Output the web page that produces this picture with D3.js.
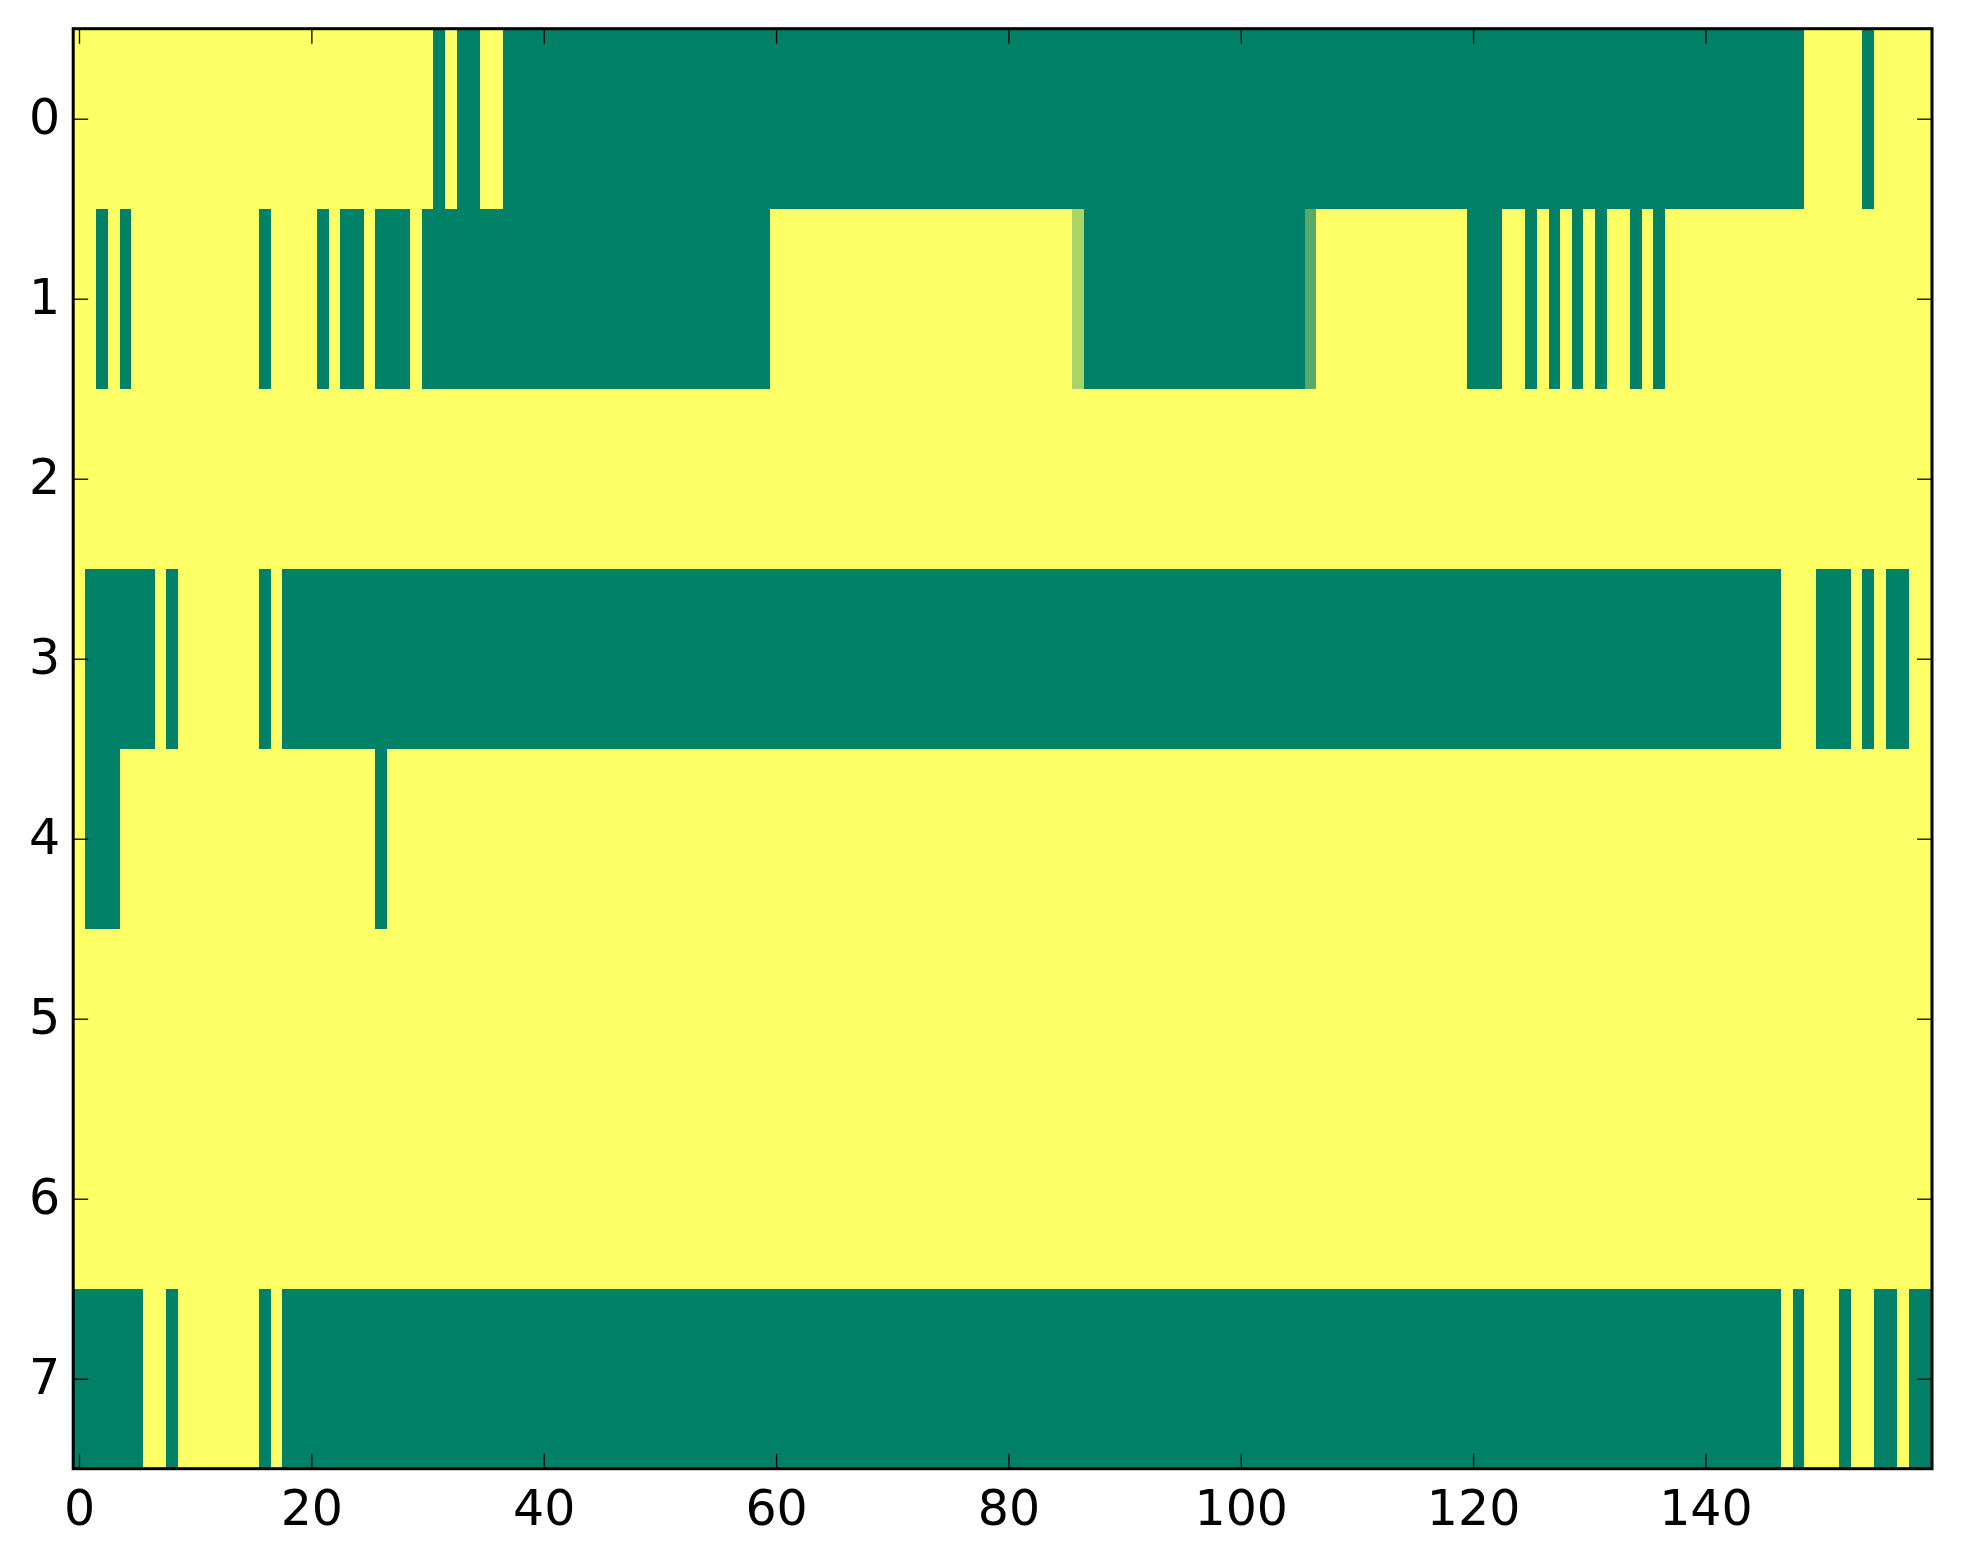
<!DOCTYPE html>
<html>
<head>
<meta charset="utf-8">
<script src="https://cdn.jsdelivr.net/npm/d3@7"></script>
<style>
  body { margin: 0; background: #fff; }
  text { font-family: "DejaVu Sans", sans-serif; }
</style>
</head>
<body>
<div id="chart-area"></div>
<script>
// DATA - one string per row, one digit per column, value in thirds (0 = 0, 3 = 1)
const row0 = "3333333333 3333333333 3333333333 3030033000 0000000000 0000000000 0000000000 0000000000 0000000000 0000000000 0000000000 0000000000 0000000000 0000000000 0000000003 3333033333"
const row1 = "3303033333 3333330333 3030030003 0000000000 0000000000 0000000000 3333333333 3333333333 3333332000 0000000000 0000001333 3333333333 0003303030 3033030333 3333333333 3333333333"
const row2 = "3333333333 3333333333 3333333333 3333333333 3333333333 3333333333 3333333333 3333333333 3333333333 3333333333 3333333333 3333333333 3333333333 3333333333 3333333333 3333333333"
const row3 = "3000000303 3333330300 0000000000 0000000000 0000000000 0000000000 0000000000 0000000000 0000000000 0000000000 0000000000 0000000000 0000000000 0000000000 0000000333 0003030033"
const row4 = "3000333333 3333333333 3333330333 3333333333 3333333333 3333333333 3333333333 3333333333 3333333333 3333333333 3333333333 3333333333 3333333333 3333333333 3333333333 3333333333"
const row5 = "3333333333 3333333333 3333333333 3333333333 3333333333 3333333333 3333333333 3333333333 3333333333 3333333333 3333333333 3333333333 3333333333 3333333333 3333333333 3333333333"
const row6 = "3333333333 3333333333 3333333333 3333333333 3333333333 3333333333 3333333333 3333333333 3333333333 3333333333 3333333333 3333333333 3333333333 3333333333 3333333333 3333333333"
const row7 = "0000003303 3333330300 0000000000 0000000000 0000000000 0000000000 0000000000 0000000000 0000000000 0000000000 0000000000 0000000000 0000000000 0000000000 0000000303 3303300300"

const rowStrings = [row0, row1, row2, row3, row4, row5, row6, row7]
const xTicks = [0, 20, 40, 60, 80, 100, 120, 140]
const yTicks = [0, 1, 2, 3, 4, 5, 6, 7]

// build cells
let cells = []
rowStrings.forEach((str, r) => {
  str.replace(/ /g, "").split("").forEach((ch, c) => {
    cells.push({ row: r, col: c, value: +ch / 3 })
  })
})
const nCols = rowStrings[0].replace(/ /g, "").length

const width = 1963
const height = 1564
const margin = { left: 73.2, right: 31, top: 28.7, bottom: 95.3 }

const svg = d3.select("#chart-area").append("svg")
  .attr("width", width).attr("height", height)

const x = d3.scaleLinear().domain([-0.5, nCols - 0.5]).range([margin.left, width - margin.right])
const y = d3.scaleLinear().domain([-0.5, rowStrings.length - 0.5]).range([margin.top, height - margin.bottom])

// matplotlib "summer" colormap
const color = d3.scaleLinear().domain([0, 1]).range(["#008066", "#ffff66"]).interpolate(d3.interpolateRgb)

svg.append("g").selectAll("rect").data(cells)
  .enter()
  .append("rect")
  .attr("x", d => x(d.col - 0.5))
  .attr("y", d => y(d.row - 0.5))
  .attr("width", d => x(d.col + 0.5) - x(d.col - 0.5) + 0.4)
  .attr("height", d => y(d.row + 0.5) - y(d.row - 0.5) + 0.4)
  .attr("fill", d => color(d.value))
  .attr("shape-rendering", "crispEdges")

// axes, ticks pointing inward on all four sides
const fontSize = 49
const x0 = x.range()[0], x1 = x.range()[1]
const y0 = y.range()[0], y1 = y.range()[1]

const styleAxis = g => {
  g.select(".domain").remove()
  g.selectAll(".tick line").attr("stroke", "#000").attr("stroke-width", 1.3)
  g.selectAll(".tick text").attr("fill", "#000").style("font-size", fontSize + "px").style("font-family", "DejaVu Sans")
}

svg.append("g")
  .attr("transform", `translate(0,${y1})`)
  .call(d3.axisBottom(x).tickValues(xTicks).tickSizeInner(-15).tickSizeOuter(0).tickPadding(22))
  .call(styleAxis)

svg.append("g")
  .attr("transform", `translate(0,${y0})`)
  .call(d3.axisTop(x).tickValues(xTicks).tickSizeInner(-15).tickSizeOuter(0).tickFormat(""))
  .call(styleAxis)

svg.append("g")
  .attr("transform", `translate(${x0},0)`)
  .call(d3.axisLeft(y).tickValues(yTicks).tickSizeInner(-15).tickSizeOuter(0).tickPadding(13))
  .call(styleAxis)
  .selectAll(".tick text").attr("dy", "0.3em")

svg.append("g")
  .attr("transform", `translate(${x1},0)`)
  .call(d3.axisRight(y).tickValues(yTicks).tickSizeInner(-15).tickSizeOuter(0).tickFormat(""))
  .call(styleAxis)

// frame
svg.append("rect")
  .attr("x", x0).attr("y", y0)
  .attr("width", x1 - x0).attr("height", y1 - y0)
  .attr("fill", "none")
  .attr("stroke", "#000")
  .attr("stroke-width", 3)
</script>
</body>
</html>
